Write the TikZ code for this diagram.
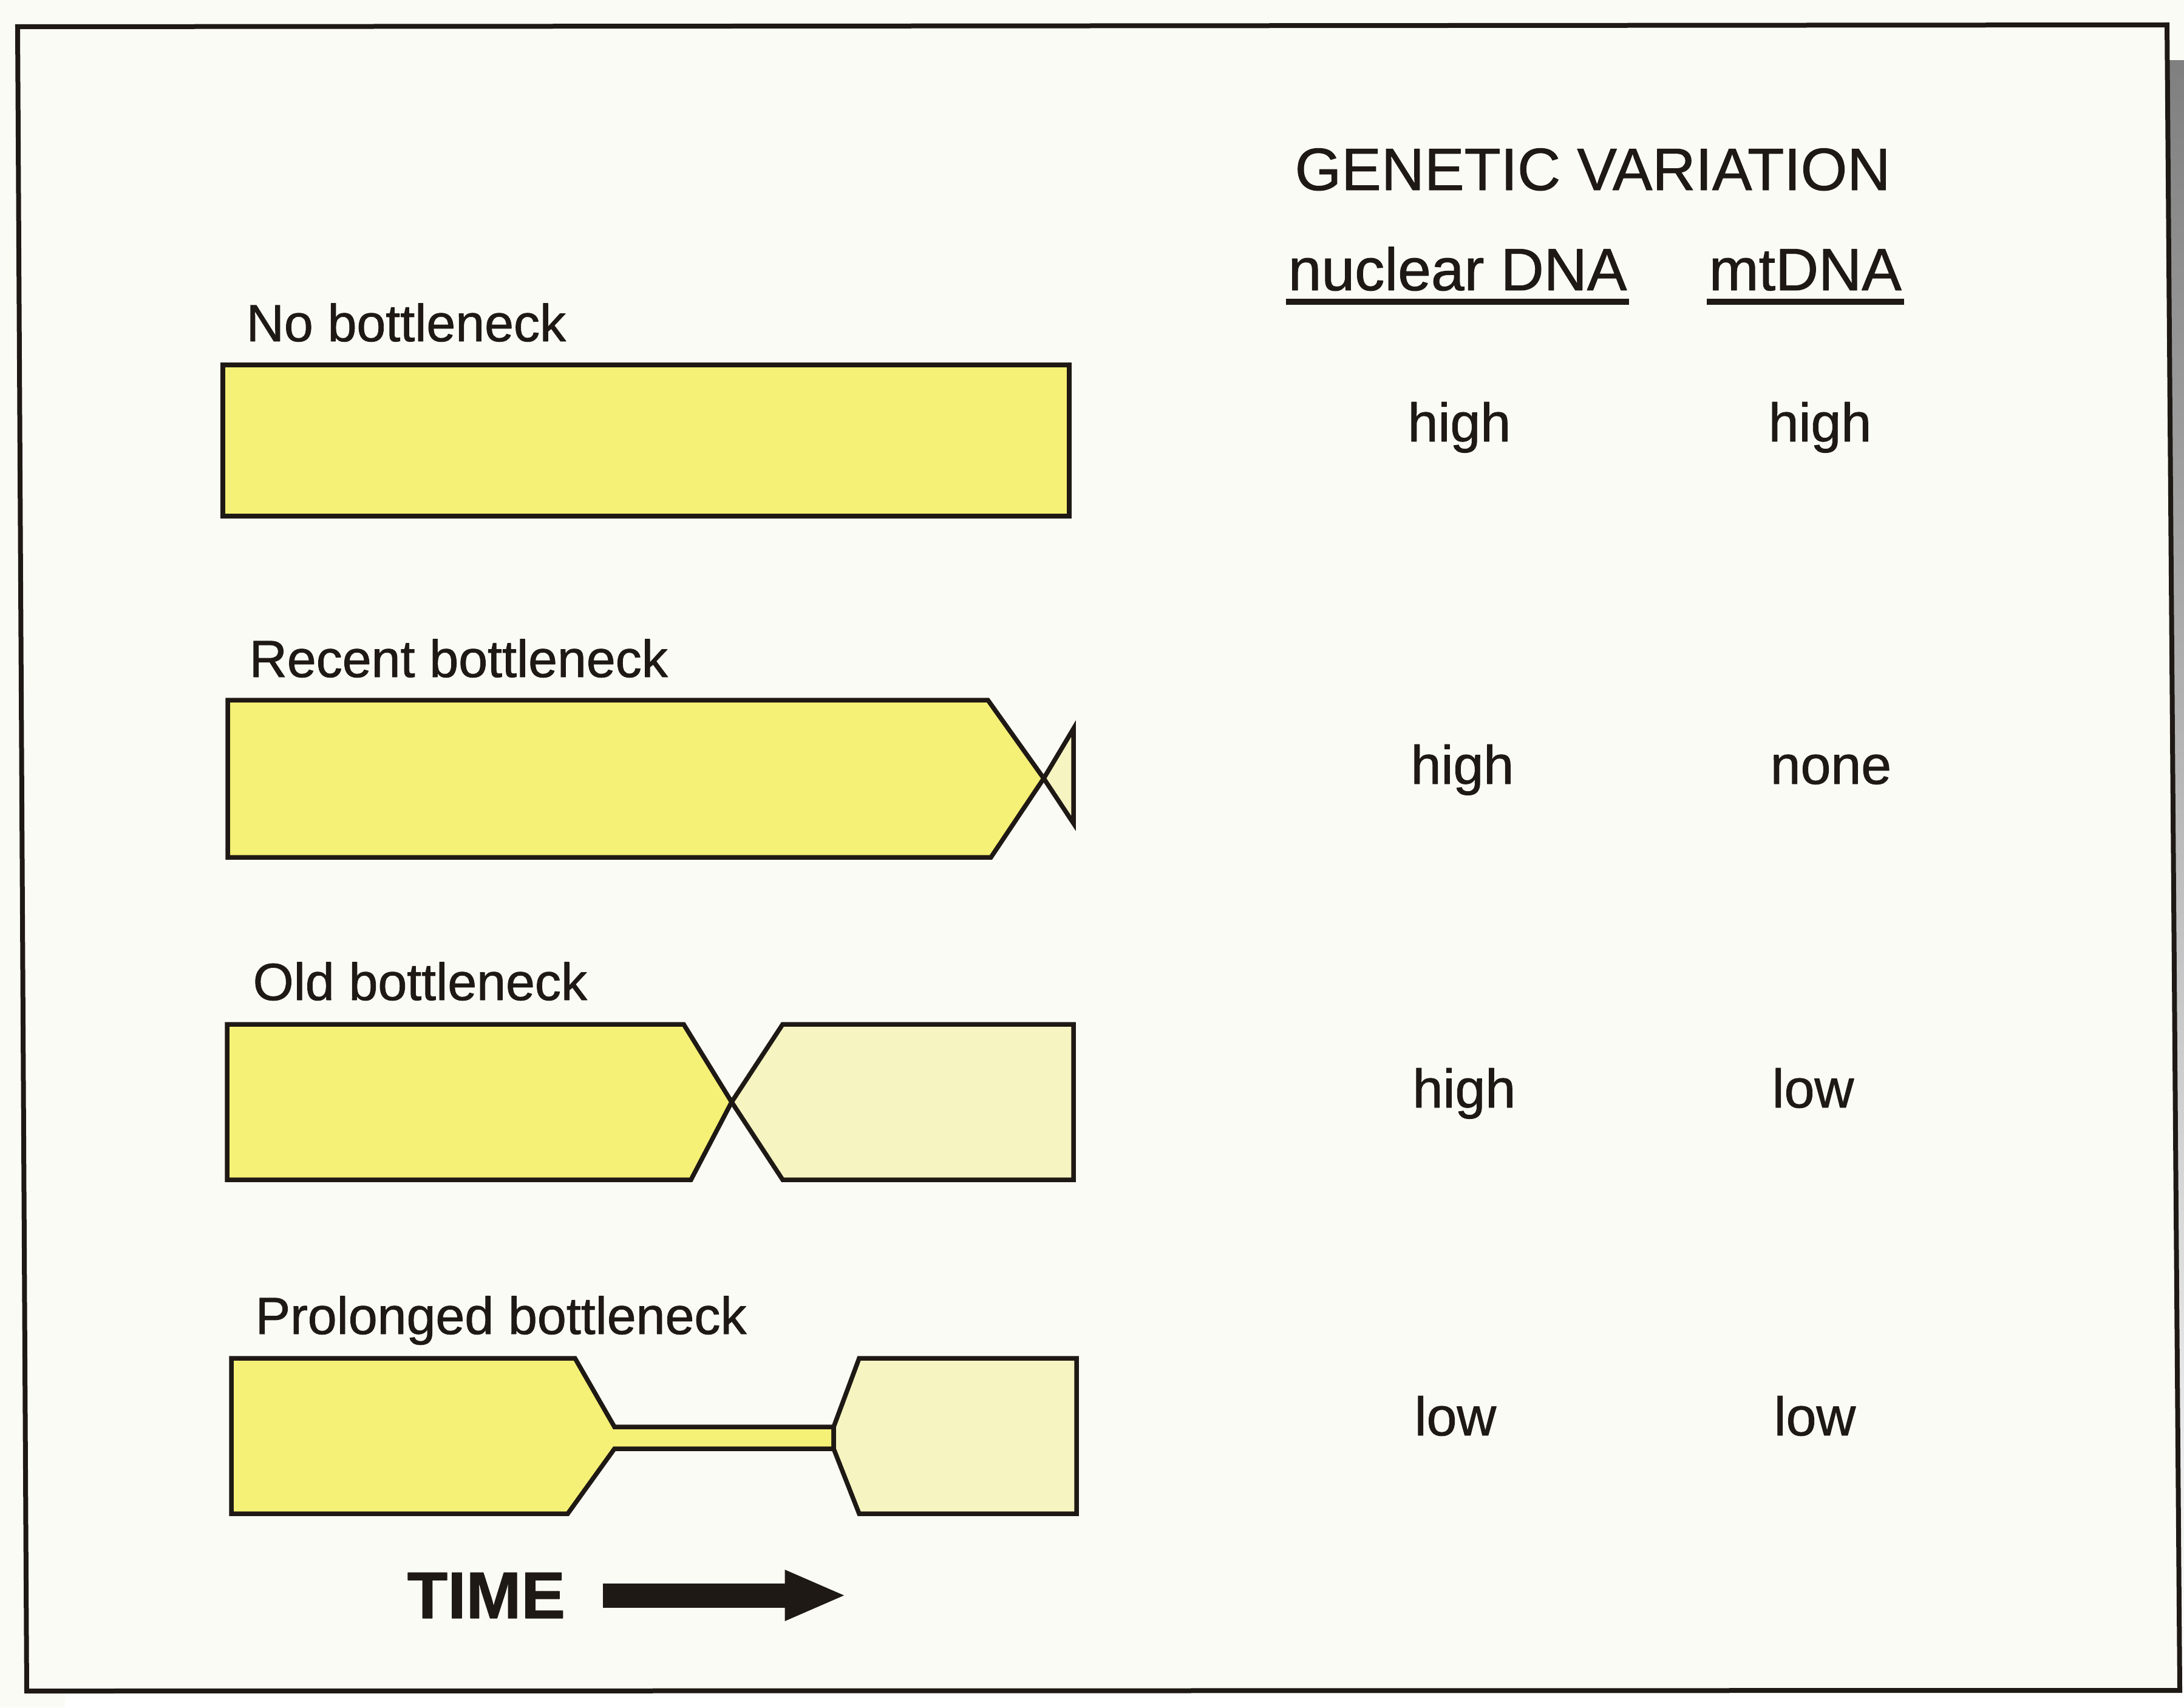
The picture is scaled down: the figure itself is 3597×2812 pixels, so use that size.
\documentclass[tikz,border=0pt]{standalone}
\usepackage{fontspec}
\setmainfont{Liberation Sans}[FakeBold=1]
\usetikzlibrary{arrows.meta}
\definecolor{paper}{RGB}{251,251,245}
\definecolor{ink}{RGB}{30,25,20}
\definecolor{popyel}{RGB}{245,240,118}
\definecolor{popfade}{RGB}{246,244,192}
\definecolor{shade}{RGB}{95,82,78}
\tikzset{
  pop/.style={fill=popyel, draw=ink, line width=0.75mm, line join=miter},
  popafter/.style={pop, fill=popfade},
  case/.style={anchor=base west, inner sep=0pt, font=\fontsize{24.5pt}{29pt}\selectfont},
  val/.style={anchor=base west, inner sep=0pt, font=\fontsize{25.5pt}{30pt}\selectfont},
  head/.style={anchor=base west, inner sep=0pt, font=\fontsize{28pt}{33pt}\selectfont},
}
\begin{document}
\begin{tikzpicture}[x=0.1mm, y=-0.1mm, color=ink, line join=round]
	\useasboundingbox[fill=paper] (0,0) rectangle (3597,2812);
	% frame and its shadow
	\fill[shade] (107,100) rectangle (3597,2812);
	\filldraw[fill=paper, draw=ink, line width=0.8mm, line join=miter] (29,44) -- (3569,41) -- (3590,2784) -- (44,2785) -- cycle;
	% the four cases
	\node[case] (nob) at (405,562) {No bottleneck};
	\node[case] (rec) at (410,1115) {Recent bottleneck};
	\node[case] (old) at (416,1647) {Old bottleneck};
	\node[case] (pro) at (420,2197) {Prolonged bottleneck};
	\draw[pop] (367,601) rectangle (1761,850);
	\draw[pop] (375,1153) -- (1627,1153) -- (1719,1282) -- (1632,1412) -- (375,1412) -- cycle;
	\draw[popafter] (1719,1282) -- (1768,1200) -- (1768,1356) -- cycle;
	\draw[pop] (374,1687) -- (1126,1687) -- (1205,1815) -- (1138,1943) -- (374,1943) -- cycle;
	\draw[popafter] (1289,1687) -- (1768,1687) -- (1768,1943) -- (1289,1943) -- (1205,1815) -- cycle;
	\draw[pop] (381,2237) -- (947,2237) -- (1012,2350) -- (1373,2350) -- (1373,2386) -- (1012,2386) -- (935,2493) -- (381,2493) -- cycle;
	\draw[popafter] (1415,2237) -- (1773,2237) -- (1773,2493) -- (1415,2493) -- (1373,2386) -- (1373,2350) -- cycle;
	% genetic variation table
	\node[head] (gv) at (2132,313) {GENETIC VARIATION};
	\node[head] (nuc) at (2121,478) {nuclear DNA};
	\node[head] (mt) at (2814,478) {mtDNA};
	\foreach \n in {nuc,mt}{\draw[line width=1mm] ([xshift=-0.3mm,yshift=-1.9mm]\n.base west) -- ([xshift=0.3mm,yshift=-1.9mm]\n.base east);}
	\foreach \r/\y/\xa/\xb/\a/\b in {1/727/2318/2912/high/high, 2/1291/2323/2915/high/none, 3/1824/2326/2918/high/low, 4/2364/2329/2921/low/low}{
		\node[val] (nuc\r) at (\xa,\y) {\a};
		\node[val] (mt\r) at (\xb,\y) {\b};
	}
	% time arrow
	\node[anchor=base west, inner sep=0pt, font=\bfseries\fontsize{31pt}{36pt}\selectfont] (time) at (670,2665) {TIME};
	\draw[line width=4mm, -{Triangle[length=10.2mm,width=7.6mm]}] ([xshift=6.1mm]time.east) -- ++(402,0);
\end{tikzpicture}
\end{document}
